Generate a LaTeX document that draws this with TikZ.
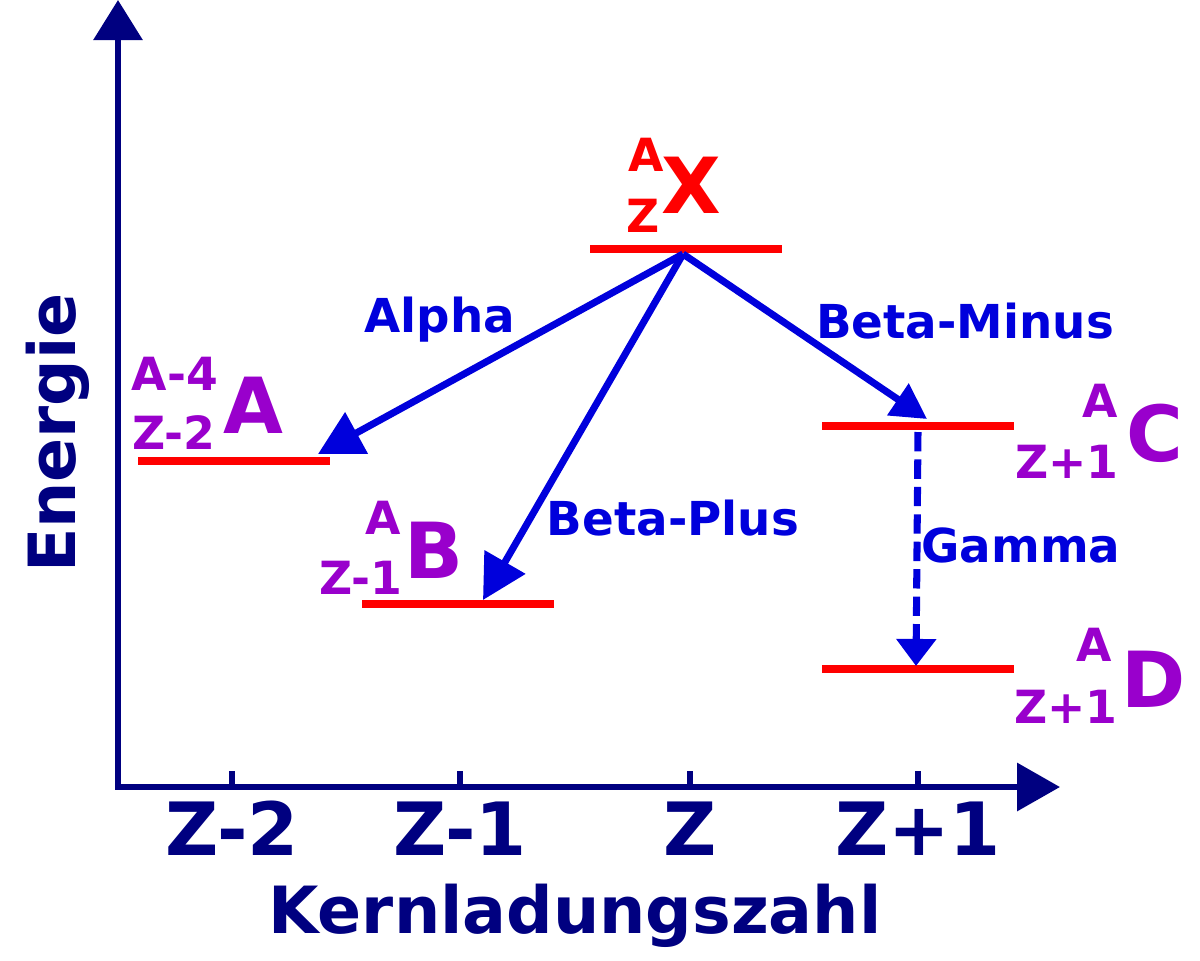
\documentclass[tikz,border=0pt]{standalone}
\usepackage{fontspec}
\setmainfont{DejaVu Sans}
\usetikzlibrary{arrows.meta}
\definecolor{axisblue}{RGB}{0,0,128}
\definecolor{decayblue}{RGB}{0,0,220}
\definecolor{nucpurple}{RGB}{153,0,204}
\begin{document}
\begin{tikzpicture}[x=0.01cm,y=-0.01cm,
    axis/.style={draw=axisblue,line width=1.7pt},
    level/.style={draw=red,line width=2pt},
    decay/.style={draw=decayblue,line width=2pt,
      -{Triangle[length=12.5pt,width=13pt]}},
    tick label/.style={text=axisblue,font=\fontsize{20.9}{24}\selectfont\bfseries,inner sep=0pt,anchor=base},
    axis label/.style={text=axisblue,font=\fontsize{18.5}{22}\selectfont\bfseries,inner sep=0pt,anchor=base},
    decay label/.style={text=decayblue,font=\fontsize{13.3}{16}\selectfont\bfseries,inner sep=0pt,anchor=base},
    big nuc/.style={font=\fontsize{22}{26}\selectfont\bfseries,inner sep=0pt},
    small nuc/.style={font=\fontsize{13}{15}\selectfont\bfseries,inner sep=0pt}]
  \useasboundingbox (0,0) rectangle (1200,960);

  % axes
  \coordinate (origin) at (118,787);
  \coordinate (ytip) at (118,0);
  \coordinate (xtip) at (1060,787);
  \draw[axis,-{Triangle[length=11.4pt,width=13.7pt]}] (118,789) -- (ytip);
  \draw[axis,-{Triangle[length=12.2pt,width=13.4pt]}] (115,787) -- (xtip);
  \foreach \x/\t in {232/Z-2,460/Z-1,690/Z,918/Z+1} {
    \draw[axis] (\x,771) -- (\x,787);
    \node[tick label] (tick\x) at (\x,855) {\t};
  }
  \node[axis label] (xlabel) at (575,933) {Kernladungszahl};
  \node[axis label,rotate=90] (ylabel) at (75,433) {Energie};

  % energy levels
  \draw[level] (590,249) -- (782,249) coordinate (X);
  \draw[level] (138,461) -- (330,461) coordinate (A);
  \draw[level] (362,604) -- (554,604) coordinate (B);
  \draw[level] (822,426) -- (1014,426) coordinate (C);
  \draw[level] (822,669) -- (1014,669) coordinate (D);

  % nuclides
  \node[big nuc,text=red] (nX) at (691,185) {X};
  \node[small nuc,text=red] (nXa) at (646,155) {A};
  \node[small nuc,text=red] (nXz) at (643,216) {Z};
  \node[big nuc,text=nucpurple] (nA) at (253,405) {A};
  \node[small nuc,text=nucpurple] (nAa) at (175,374) {A-4};
  \node[small nuc,text=nucpurple] (nAz) at (174,433) {Z-2};
  \node[big nuc,text=nucpurple] (nB) at (434,550) {B};
  \node[small nuc,text=nucpurple] (nBa) at (383,518) {A};
  \node[small nuc,text=nucpurple] (nBz) at (361,578) {Z-1};
  \node[big nuc,text=nucpurple] (nC) at (1155,433) {C};
  \node[small nuc,text=nucpurple] (nCa) at (1100,401) {A};
  \node[small nuc,text=nucpurple] (nCz) at (1067,462) {Z+1};
  \node[big nuc,text=nucpurple] (nD) at (1154,679) {D};
  \node[small nuc,text=nucpurple] (nDa) at (1094,645) {A};
  \node[small nuc,text=nucpurple] (nDz) at (1066,707) {Z+1};

  % decays
  \coordinate (start) at (683,254);
  \coordinate (alphaend) at (318,454);
  \coordinate (plusend) at (483,600);
  \coordinate (minusend) at (927,419);
  \coordinate (gammastart) at (918,432);
  \coordinate (gammaend) at (916,666);
  \draw[decay] (start) -- (alphaend);
  \draw[decay] (start) -- (plusend);
  \draw[decay,-{Triangle[length=10pt,width=10.5pt]}] (start) -- (minusend);
  \draw[decay,dash pattern=on 5.5pt off 2.3pt,-{Triangle[length=7.7pt,width=11pt]}] (gammastart) -- (gammaend);
  \node[decay label] (alpha) at (440,332) {Alpha};
  \node[decay label] (plus) at (673,535) {Beta-Plus};
  \node[decay label] (minus) at (965,338) {Beta-Minus};
  \node[decay label] (gamma) at (1021,562) {Gamma};
\end{tikzpicture}
\end{document}
